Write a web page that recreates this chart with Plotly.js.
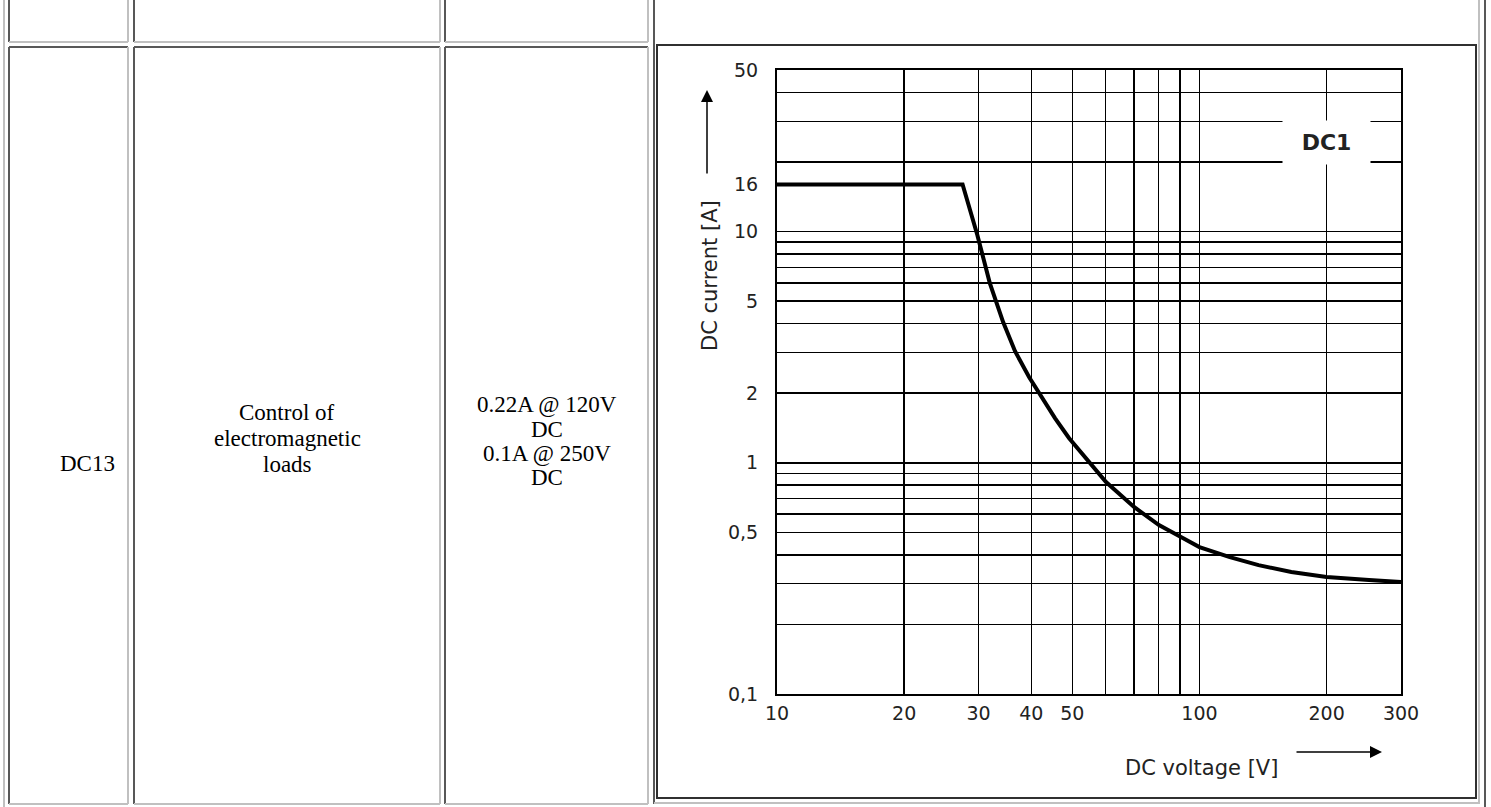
<!DOCTYPE html>
<html>
<head>
<meta charset="utf-8">
<script src="https://cdn.plot.ly/plotly-3.0.1.min.js"></script>
<style>
html, body { margin: 0; padding: 0; background: #ffffff; overflow: hidden; }
#chart { width: 1491px; height: 807px; }
</style>
</head>
<body>
<div id="chart"></div>
<script>
// ---------- data ----------
const voltage = [10, 27.5, 29.8, 31.9, 34.3, 36.6, 39.5, 42.4, 45.5, 49.1, 54.5, 60.1, 70, 80.2, 90.4, 100, 118, 138, 165, 200, 252, 300];
const current = [16, 16, 9.67, 5.99, 4.06, 3.04, 2.35, 1.91, 1.56, 1.28, 1.02, 0.826, 0.644, 0.538, 0.478, 0.432, 0.391, 0.361, 0.337, 0.321, 0.311, 0.305];

const xGridValues = [10, 20, 30, 40, 50, 60, 70, 80, 90, 100, 200, 300];
const xTickLabels = ['10', '20', '30', '40', '50', '', '', '', '', '100', '200', '300'];

const yGridValues = [0.2, 0.3, 0.4, 0.5, 0.6, 0.7, 0.8, 0.9, 1, 2, 3, 4, 5, 6, 7, 8, 9, 10, 20, 30, 40];
const yLabelValues = [0.1, 0.5, 1, 2, 5, 10, 16, 50];
const yTickLabels = ['0,1', '0,5', '1', '2', '5', '10', '16', '50'];

const curveName = 'DC1';
const xTitle = 'DC voltage [V]';
const yTitle = 'DC current [A]';

const tableCol1 = ['DC13'];
const tableCol2 = ['Control of', 'electromagnetic', 'loads'];
const tableCol3 = ['0.22A @ 120V', 'DC', '0.1A @ 250V', 'DC'];

// ---------- layout helpers (page pixels -> paper fractions) ----------
const W = 1491, H = 807;
const px = x => x / W;
const py = y => 1 - y / H;

const DARK = '#585858';
const LIGHT = '#c0c0c0';

function hline(y, x0, x1, color, w) {
  return { type: 'line', xref: 'paper', yref: 'paper', x0: px(x0), x1: px(x1), y0: py(y), y1: py(y),
           line: { color: color, width: w || 2 }, layer: 'below' };
}
function vline(x, y0, y1, color, w) {
  return { type: 'line', xref: 'paper', yref: 'paper', x0: px(x), x1: px(x), y0: py(y0), y1: py(y1),
           line: { color: color, width: w || 2 }, layer: 'below' };
}

const shapes = [];
// outer table border (outset)
shapes.push(vline(4, 0, 807, LIGHT, 2));
shapes.push(vline(1485, 0, 807, DARK, 2));
// cells of columns 1-3 (inset borders), two rows
const cols = [[9, 128], [134, 440], [445, 648]];
cols.forEach(([l, r]) => {
  shapes.push(vline(l, 0, 42, DARK));
  shapes.push(vline(r, 0, 42, LIGHT));
  shapes.push(hline(42, l, r, LIGHT));
  shapes.push(hline(47, l, r, DARK));
  shapes.push(vline(l, 47, 804, DARK));
  shapes.push(vline(r, 47, 804, LIGHT));
  shapes.push(hline(804, l, r, LIGHT));
});
// column 4 cell (spans both rows)
shapes.push(vline(654, 0, 804, DARK));
shapes.push(vline(1479, 0, 804, LIGHT));
shapes.push(hline(803, 654, 1479, LIGHT));
// chart picture frame
shapes.push({ type: 'rect', xref: 'paper', yref: 'paper', x0: px(657), x1: px(1476), y0: py(798), y1: py(45),
              line: { color: '#303030', width: 2 }, fillcolor: 'rgba(0,0,0,0)', layer: 'below' });

// ---------- annotations ----------
const annotations = [];
const serif = { family: 'Liberation Serif, Times New Roman, serif', size: 23, color: '#000000' };
function cellText(lines, cx, ys) {
  lines.forEach((t, i) => annotations.push({ text: t, xref: 'paper', yref: 'paper', x: px(cx), y: py(ys[i]),
    xanchor: 'center', yanchor: 'middle', showarrow: false, font: serif }));
}
cellText(tableCol1, 87, [463]);
cellText(tableCol2, 287, [412, 438, 464]);
cellText(tableCol3, 547, [404, 429, 453, 478]);

const sans = { family: 'DejaVu Sans, Verdana, sans-serif', size: 21, color: '#222222' };
// axis titles
annotations.push({ text: yTitle, xref: 'paper', yref: 'paper', x: px(710), y: py(276), textangle: -90,
  xanchor: 'center', yanchor: 'middle', showarrow: false, font: sans });
annotations.push({ text: xTitle, xref: 'paper', yref: 'paper', x: px(1201), y: py(768),
  xanchor: 'center', yanchor: 'middle', showarrow: false, font: sans });
// axis arrows
annotations.push({ text: '', xref: 'paper', yref: 'paper', x: px(707), y: py(90), axref: 'pixel', ayref: 'pixel',
  ax: 0, ay: 85, showarrow: true, arrowhead: 2, arrowsize: 1.6, arrowwidth: 1.5, arrowcolor: '#000000' });
annotations.push({ text: '', xref: 'paper', yref: 'paper', x: px(1382), y: py(752), axref: 'pixel', ayref: 'pixel',
  ax: -87, ay: 0, showarrow: true, arrowhead: 2, arrowsize: 1.6, arrowwidth: 1.5, arrowcolor: '#000000' });
// curve label with white box interrupting the grid
annotations.push({ text: '<b>' + curveName + '</b>', xref: 'x', yref: 'y', x: Math.log10(200), y: Math.log10(24.3),
  xanchor: 'center', yanchor: 'middle', showarrow: false, bgcolor: '#ffffff', width: 85, height: 41,
  font: { family: 'DejaVu Sans, Verdana, sans-serif', size: 22, color: '#222222' } });

// ---------- trace ----------
const trace = {
  x: voltage, y: current, type: 'scatter', mode: 'lines', name: curveName,
  line: { color: '#000000', width: 4 }, hoverinfo: 'skip'
};

const tickFont = { family: 'DejaVu Sans, Verdana, sans-serif', size: 19, color: '#222222' };
const layout = {
  width: W, height: H,
  margin: { l: 0, r: 0, t: 0, b: 0, pad: 0 },
  paper_bgcolor: '#ffffff', plot_bgcolor: '#ffffff',
  showlegend: false,
  xaxis: {
    type: 'log', range: [1, Math.log10(300)], domain: [px(777), px(1401)],
    tickmode: 'array', tickvals: xGridValues, ticktext: xTickLabels,
    showgrid: true, gridcolor: '#000000', gridwidth: 1.5,
    showline: true, linecolor: '#000000', linewidth: 2, mirror: true,
    ticks: '', zeroline: false, tickfont: tickFont, ticklabelstandoff: 1, fixedrange: true
  },
  yaxis: {
    type: 'log', range: [-1, Math.log10(50)], domain: [py(694), py(70)],
    tickmode: 'array', tickvals: yLabelValues, ticktext: yTickLabels,
    showgrid: false,
    minor: { tickmode: 'array', tickvals: yGridValues, showgrid: true, gridcolor: '#000000', gridwidth: 1.5, ticks: '' },
    showline: true, linecolor: '#000000', linewidth: 2, mirror: true,
    ticks: '', zeroline: false, tickfont: tickFont, ticklabelstandoff: 13, fixedrange: true
  },
  shapes: shapes,
  annotations: annotations
};

Plotly.newPlot('chart', [trace], layout, { displayModeBar: false, staticPlot: true });
</script>
</body>
</html>
